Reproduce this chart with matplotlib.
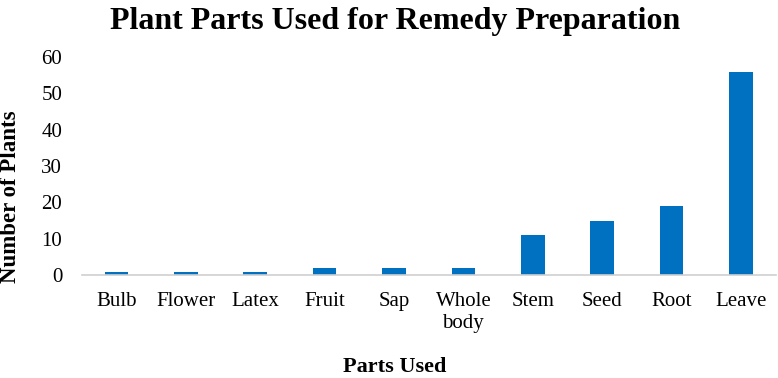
import matplotlib.pyplot as plt

plt.rcParams["font.family"] = ["Liberation Serif", "DejaVu Serif"]

parts = ["Bulb", "Flower", "Latex", "Fruit", "Sap", "Whole\nbody",
         "Stem", "Seed", "Root", "Leave"]
counts = [1, 1, 1, 2, 2, 2, 11, 15, 19, 56]
yticks = [0, 10, 20, 30, 40, 50, 60]

fig = plt.figure(figsize=(7.78, 3.78), dpi=100)
ax = fig.add_axes([0.105, 0.272, 0.892, 0.577])

x = range(len(parts))
ax.bar(x, counts, width=0.34, color="#0070C0")

ax.set_xlim(-0.5, len(parts) - 0.5)
ax.set_ylim(0, 60)
ax.set_xticks(list(x))
ax.set_xticklabels(parts, fontsize=15, linespacing=1.2, va="top")
ax.set_yticks(yticks)
ax.tick_params(axis="y", length=0, pad=14, labelsize=15)
ax.tick_params(axis="x", length=0, pad=12)

for s in ["top", "right", "left"]:
    ax.spines[s].set_visible(False)
ax.spines["bottom"].set_color("#d0d0d0")
ax.spines["bottom"].set_linewidth(1.2)

fig.text(0.508, 0.942, "Plant Parts Used for Remedy Preparation",
         ha="center", va="center", fontsize=23, fontweight="bold")
fig.text(0.507, 0.028, "Parts Used", ha="center", va="center",
         fontsize=16, fontweight="bold")
fig.text(0.013, 0.48, "Number of Plants", ha="center", va="center",
         rotation=90, fontsize=16.5, fontweight="bold")

fig.savefig("out.png", dpi=100)
